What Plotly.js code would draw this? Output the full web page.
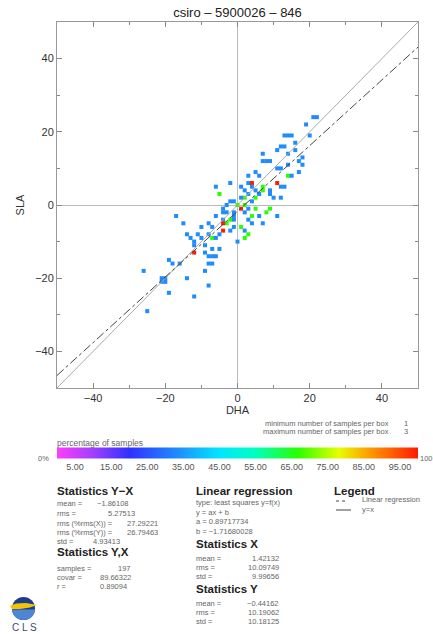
<!DOCTYPE html>
<html>
<head>
<meta charset="utf-8">
<script src="https://cdn.plot.ly/plotly-3.0.1.min.js"></script>
<style>html,body{margin:0;padding:0;background:#fff;}#chart{width:433px;height:634px;}</style>
</head>
<body>
<div id="chart"></div>
<script>
// ---------------- DATA ----------------
const chartTitle = 'csiro \u2013 5900026 \u2013 846';
const xLabel = 'DHA';
const yLabel = 'SLA';
const axisRange = [-50, 50];
const axisTicks = [-40, -20, 0, 20, 40];

// 2D-histogram boxes (DHA, SLA) and number of samples in each box
const binX = [22,21,19,20,15,13,14,12,13,16,11,14,7,7,8,9,18,17,18,11,12,14,17,14,15,3,6,3,4,11,7,7,1,2,4,5,12,13,9,9,12,2,3,4,5,6,
  -2,-6,-5,-2,-1,1,-4,-4,-3,-1,-1,3,5,6,8,9,4,2,11,-8,-4,-3,-4,-1,1,4,7,-7,-4,-2,-8,2,3,-5,-7,2,0,
  -17,-15,-14,-11,-10,-12,-12,-9,-12,-9,-7,-8,-7,-6,-8,-19,-18,-16,-9,-7,-26,-21,-20,-20,-21,-14,-19,-8,-12,-25,
  0,1,-3,-6,-2,5,10,16,-1,2,-6,-10,3,-13,-5];
const binY = [24,24,22,19,19,19,19,16,16,17,15,14,14,12,12,12,13,12,11,10,10,11,9,8,8,8,8,6,6,6,5,4,5,4,5,4,5,5,4,3,2,2,3,1,2,3,
  6,5,3,1,1,-1,-1,-2,-2,-2,-3,-1,-1,-3,-2,-1,-3,-2,-3,-5,-4,-5,-5,-6,-6,-5,-5,-6,-7,-7,-8,-7,-8,-8,-9,-9,-10,
  -3,-5,-8,-8,-9,-10,-11,-11,-13,-13,-12,-14,-14,-14,-16,-15,-16,-16,-18,-16,-18,-20,-20,-21,-21,-20,-24,-22,-25,-29,
  0,2,0,-3,-4,9,2,15,-4,0,-9,-6,-4,-9,-12];
const binCount = [1,1,1,1,1,1,1,1,1,1,1,1,1,1,1,1,1,1,1,1,1,1,1,2,1,1,1,1,3,3,2,2,1,1,1,1,1,1,1,1,1,2,1,1,2,1,
  1,1,2,1,1,3,1,1,1,1,1,1,2,1,2,2,2,1,1,1,1,2,3,1,2,1,1,1,3,1,1,1,2,1,2,2,1,
  1,1,1,1,1,1,1,1,3,1,1,1,1,1,1,1,1,1,1,1,1,1,1,1,1,1,1,1,1,1,
  2,1,1,1,2,1,1,1,1,2,1,1,1,1,1];
const minSamplesPerBox = 1;
const maxSamplesPerBox = 3;

// colour bar
const colorTicks = [5, 15, 25, 35, 45, 55, 65, 75, 85, 95];
const colorTickText = ['5.00','15.00','25.00','35.00','45.00','55.00','65.00','75.00','85.00','95.00'];

// linear regression y = a x + b
const regA = 0.89717734;
const regB = -1.71680028;

// statistics text
const statsYXLabels = ['mean =', 'rms =', 'rms (%rms(X)) =', 'rms (%rms(Y)) =', 'std ='];
const statsYXValues = ['\u22121.86108', '5.27513', '27.29221', '26.79463', '4.93413'];
const statsCorrLabels = ['samples =', 'covar =', 'r ='];
const statsCorrValues = ['197', '89.66322', '0.89094'];
const regressionLines = ['type: least squares y=f(x)', 'y = ax + b', 'a = 0.89717734', 'b = \u22121.71680028'];
const statsXLabels = ['mean =', 'rms =', 'std ='];
const statsXValues = ['1.42132', '10.09749', '9.99656'];
const statsYLabels = ['mean =', 'rms =', 'std ='];
const statsYValues = ['\u22120.44162', '10.19062', '10.18125'];

// ---------------- CHART ----------------
const W = 433, H = 634, L = 57, R = 15, T = 22, B = 246;
const PW = W - L - R, PH = H - T - B;
const px = X => (X - L) / PW;
const py = Y => (H - B - Y) / PH;

const colorscale = [
  [0.00, '#ff3cff'], [0.10, '#a040ff'], [0.20, '#3030ff'], [0.333, '#1e8cff'],
  [0.45, '#00e6ff'], [0.55, '#00ffc0'], [0.667, '#28ff00'], [0.78, '#e6ff00'],
  [0.86, '#ffa000'], [1.00, '#ff1a00']
];

const pct = binCount.map(c => c / maxSamplesPerBox * 100);

const traces = [
  {
    type: 'scatter', mode: 'markers', x: binX, y: binY, hoverinfo: 'skip',
    marker: {
      symbol: 'square', size: 4, line: {width: 0},
      color: pct, cmin: 0, cmax: 100, colorscale: colorscale, showscale: true,
      colorbar: {
        orientation: 'h', x: 0, xanchor: 'left', len: 1, lenmode: 'fraction',
        y: py(457.5), yanchor: 'middle', thickness: 11, thicknessmode: 'pixels',
        xpad: 0, ypad: 0, outlinewidth: 0, ticks: '',
        tickmode: 'array', tickvals: colorTicks, ticktext: colorTickText,
        tickfont: {family: 'Liberation Sans, Arial, sans-serif', size: 9, color: '#555'}
      }
    },
    showlegend: false
  },
  {
    type: 'scatter', mode: 'lines', x: axisRange, y: axisRange, hoverinfo: 'skip',
    line: {color: '#aaaaaa', width: 1}, showlegend: false
  },
  {
    type: 'scatter', mode: 'lines', x: axisRange, y: axisRange.map(v => regA * v + regB), hoverinfo: 'skip',
    line: {color: '#444444', width: 1, dash: 'dashdot'}, showlegend: false
  }
];

const FONT = 'Liberation Sans, Arial, sans-serif';
const annotations = [];
function ann(text, X, Y, opt) {
  opt = opt || {};
  annotations.push({
    text: text, xref: 'paper', yref: 'paper', x: px(X), y: py(Y),
    xanchor: opt.anchor || 'left', yanchor: 'middle', showarrow: false,
    borderpad: 0, borderwidth: 0,
    font: {family: FONT, size: opt.size || 7.5, color: opt.color || '#666'}
  });
}
function head(text, X, Y) { ann('<b>' + text + '</b>', X, Y, {size: 11.5, color: '#222'}); }

// min / max samples
ann('minimum number of samples per box', 389, 423, {anchor: 'right', size: 7.5});
ann(String(minSamplesPerBox), 404, 423, {size: 7.5});
ann('maximum number of samples per box', 389, 431, {anchor: 'right', size: 7.5});
ann(String(maxSamplesPerBox), 404, 431, {size: 7.5});
ann('percentage of samples', 57, 443, {size: 8.5});
ann('0%', 49, 458, {anchor: 'right', size: 7.5});
ann('100', 420, 458, {size: 7.5});

// Statistics Y-X
head('Statistics Y\u2212X', 57, 491);
const yxRowsY = [504, 513, 523, 532, 541];
const yxValX = [97, 108, 127, 127, 93];
statsYXLabels.forEach((t, i) => { ann(t, 57, yxRowsY[i]); ann(statsYXValues[i], yxValX[i], yxRowsY[i]); });
head('Statistics Y,X', 57, 552);
const corrRowsY = [568, 577, 586];
const corrValX = [118, 100, 100];
statsCorrLabels.forEach((t, i) => { ann(t, 57, corrRowsY[i]); ann(statsCorrValues[i], corrValX[i], corrRowsY[i]); });

// Linear regression
head('Linear regression', 196, 491);
const regRowsY = [502, 512, 521, 531];
regressionLines.forEach((t, i) => ann(t, 196, regRowsY[i]));
head('Statistics X', 196, 544);
const sxRowsY = [558, 567, 576];
statsXLabels.forEach((t, i) => { ann(t, 196, sxRowsY[i]); ann(statsXValues[i], 279, sxRowsY[i], {anchor: 'right'}); });
head('Statistics Y', 196, 589);
const syRowsY = [603, 612, 621];
statsYLabels.forEach((t, i) => { ann(t, 196, syRowsY[i]); ann(statsYValues[i], 279, syRowsY[i], {anchor: 'right'}); });

// Legend
head('Legend', 334, 491);
ann('Linear regression', 362, 500);
ann('y=x', 362, 509);

// CLS logo text
ann('C L S', 24, 627, {anchor: 'center', size: 10, color: '#3a4a70'});

const shapes = [
  {type: 'line', xref: 'paper', yref: 'paper', x0: px(336), x1: px(347), y0: py(501), y1: py(501),
   line: {color: '#444', width: 1, dash: 'dot'}},
  {type: 'line', xref: 'paper', yref: 'paper', x0: px(336), x1: px(351), y0: py(510), y1: py(510),
   line: {color: '#444', width: 1}},
  // logo globe
  {type: 'circle', xref: 'paper', yref: 'paper', x0: px(12), x1: px(35), y0: py(620), y1: py(597),
   fillcolor: '#1d3c8f', line: {width: 0}}
];
// lower light-blue half of globe and yellow band (logo decoration)
(function () {
  const cx = 23.5, cy = 608.5, r = 11.5;
  let p = '';
  for (let k = 0; k <= 20; k++) {
    const a = Math.PI * k / 20;
    const X = cx + r * Math.cos(a), Y = cy + 1 + (r - 1) * Math.sin(a);
    p += (k === 0 ? 'M' : 'L') + px(X) + ',' + py(Y);
  }
  p += 'Z';
  shapes.push({type: 'path', xref: 'paper', yref: 'paper', path: p, fillcolor: '#4f86d4', line: {width: 0}});
  let q = '';
  const pts = [[10, 606], [16, 603.5], [26, 603], [37, 605], [30, 607.5], [20, 609], [12, 609]];
  pts.forEach((pt, k) => { q += (k === 0 ? 'M' : 'L') + px(pt[0]) + ',' + py(pt[1]); });
  q += 'Z';
  shapes.push({type: 'path', xref: 'paper', yref: 'paper', path: q, fillcolor: '#f3c400', line: {width: 0}});
})();

const axisCommon = {
  range: axisRange, tickmode: 'array', tickvals: axisTicks,
  ticks: 'inside', ticklen: 5, tickcolor: '#888', tickwidth: 1,
  showline: true, linecolor: '#999', linewidth: 1, mirror: 'ticks',
  minor: {dtick: 10, tick0: 0, ticks: 'inside', ticklen: 3, tickcolor: '#888', showgrid: false},
  showgrid: false, zeroline: true, zerolinecolor: '#bbbbbb', zerolinewidth: 1,
  tickfont: {family: FONT, size: 11, color: '#333'}, fixedrange: true
};

const layout = {
  width: W, height: H,
  margin: {l: L, r: R, t: T, b: B},
  paper_bgcolor: '#ffffff', plot_bgcolor: '#ffffff',
  title: {text: chartTitle, x: 0.5, xref: 'paper', y: 1 - 12 / H, yref: 'container', yanchor: 'middle',
          font: {family: FONT, size: 13, color: '#222'}},
  xaxis: Object.assign({}, axisCommon, {title: {text: xLabel, standoff: 2, font: {family: FONT, size: 11, color: '#333'}}}),
  yaxis: Object.assign({}, axisCommon, {title: {text: yLabel, standoff: 8, font: {family: FONT, size: 11, color: '#333'}}}),
  annotations: annotations,
  shapes: shapes,
  showlegend: false
};

Plotly.newPlot('chart', traces, layout, {displayModeBar: false, staticPlot: true});
</script>
</body>
</html>
